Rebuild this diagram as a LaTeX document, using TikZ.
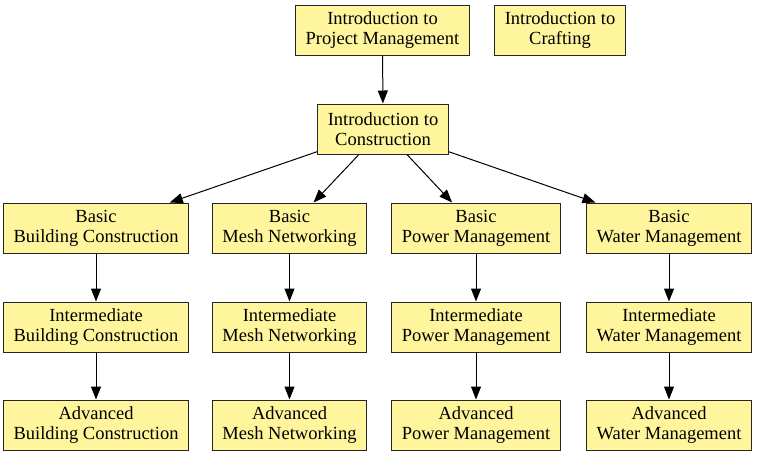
\documentclass[tikz,border=0pt]{standalone}
\usepackage{fontspec}
\setmainfont{LiberationSerif}[Extension=.ttf, UprightFont=*-Regular]
\usetikzlibrary{arrows.meta}
\definecolor{boxfill}{HTML}{FFF59D}
\tikzset{
  course/.style={draw=black!85, fill=boxfill, line width=1pt, align=center,
    inner xsep=10pt, inner ysep=0pt, minimum height=50pt,
    font=\rmfamily\fontsize{18.5}{20}\selectfont},
  prereq/.style={draw=black, line width=1pt, -{Triangle[length=13pt,width=10pt]}}
}

\begin{document}
\begin{tikzpicture}[x=1pt,y=-1pt]
  \useasboundingbox (0,0) rectangle (759,456);

  % top row
  \node[course] (pm) at (382.5,30) {Introduction to\\Project Management};
  \node[course] (craft) at (560,30) {Introduction to\\Crafting};
  \node[course] (constr) at (383,129) {Introduction to\\Construction};

  % basic
  \node[course] (bbuild) at (96,228) {Basic\\Building Construction};
  \node[course] (bmesh) at (289.5,228) {Basic\\Mesh Networking};
  \node[course] (bpower) at (476,228) {Basic\\Power Management};
  \node[course] (bwater) at (669,228) {Basic\\Water Management};

  % intermediate
  \node[course] (ibuild) at (96,327) {Intermediate\\Building Construction};
  \node[course] (imesh) at (289.5,327) {Intermediate\\Mesh Networking};
  \node[course] (ipower) at (476,327) {Intermediate\\Power Management};
  \node[course] (iwater) at (669,327) {Intermediate\\Water Management};

  % advanced
  \node[course] (abuild) at (96,425) {Advanced\\Building Construction};
  \node[course] (amesh) at (289.5,425) {Advanced\\Mesh Networking};
  \node[course] (apower) at (476,425) {Advanced\\Power Management};
  \node[course] (awater) at (669,425) {Advanced\\Water Management};

  \draw[prereq] (pm) -- (constr);
  \foreach \t in {build,mesh,power,water} {
    \draw[prereq] (constr) -- (b\t);
    \draw[prereq] (b\t) -- (i\t);
    \draw[prereq] (i\t) -- (a\t);
  }
\end{tikzpicture}
\end{document}
